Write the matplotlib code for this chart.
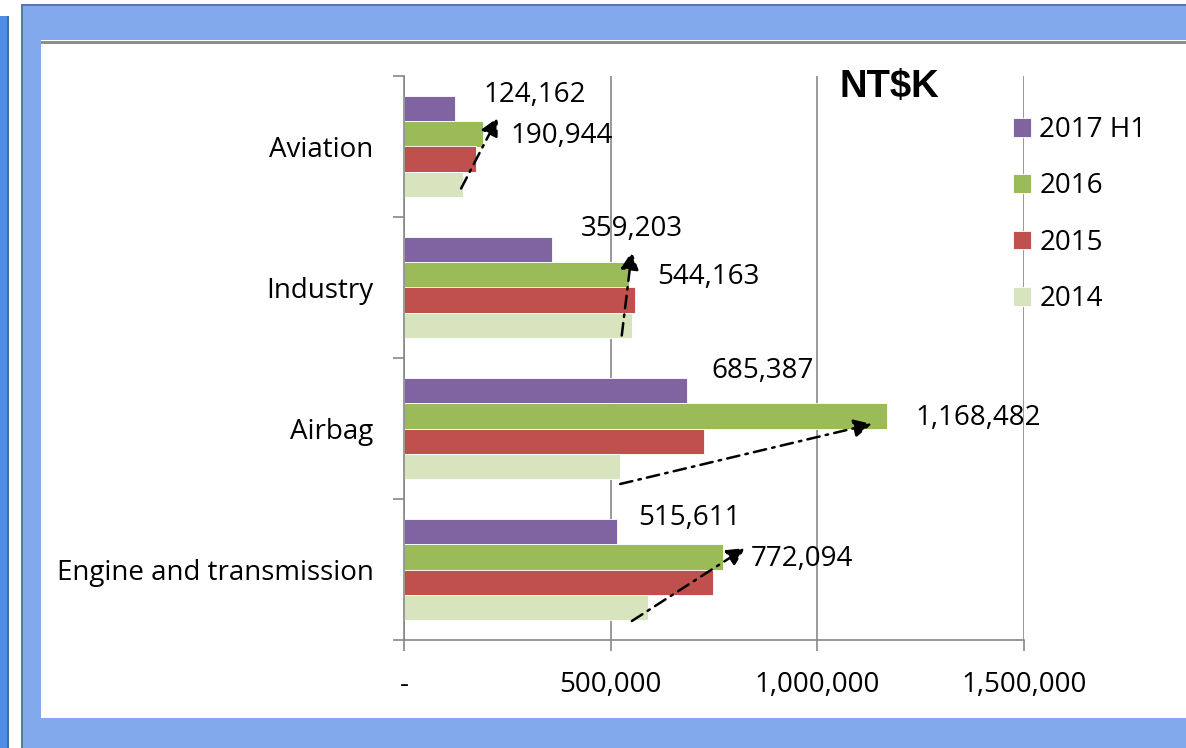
import matplotlib.pyplot as plt
from matplotlib.patches import Rectangle
import numpy as np

# data (NT$K)
categories = ['Engine and transmission', 'Airbag', 'Industry', 'Aviation']
series = ['2017 H1', '2016', '2015', '2014']
v2017 = [515611, 685387, 359203, 124162]
v2016 = [772094, 1168482, 544163, 190944]
v2015 = [747000, 726000, 558000, 174000]
v2014 = [590000, 523000, 551000, 143000]
colors = ['#8064A2', '#9BBB59', '#C0504D', '#D7E4BD']
xticks = [0, 500000, 1000000, 1500000]
xticklabels = ['-', '500,000', '1,000,000', '1,500,000']

W, H = 1186, 748
fig = plt.figure(figsize=(W / 100, H / 100), dpi=100)
fig.patch.set_facecolor('white')

def frect(x, y, w, h, c):
    # rectangle in pixel coords (y from top)
    fig.patches.append(Rectangle((x / W, 1 - (y + h) / H), w / W, h / H,
                                 transform=fig.transFigure, facecolor=c,
                                 edgecolor='none', zorder=-5))

# blue frame around the chart
frect(0, 16, 8, H - 16, '#4E8CE6')
frect(7, 16, 2, H - 16, '#3D6FA8')
frect(21, 4, W - 21, H - 4, '#82A9EC')
frect(21, 4, W - 21, 2, '#4F7BA6')
frect(21, 4, 2, H - 4, '#4F7BA6')
frect(41, 40, W - 41, 678, 'white')
frect(41, 41, W - 41, 3, '#8E8E8E')

font = 'Open Sans'
fs = 20

ax = fig.add_axes([404 / W, 1 - 640 / H, 620 / W, 564 / H])
ax.set_facecolor('none')

h = 0.18
centers = np.arange(len(categories)) + 0.5
vals = [v2017, v2016, v2015, v2014]
offs = [1.5, 0.5, -0.5, -1.5]
for s, v, c, o in zip(series, vals, colors, offs):
    ax.barh(centers + o * h, v, height=h, color=c, edgecolor='white',
            linewidth=0.6, label=s, zorder=2)

ax.set_xlim(0, 1500000)
ax.set_ylim(0, 4)

gray = '#878787'
for sp in ['top', 'right']:
    ax.spines[sp].set_visible(False)
for sp in ['left', 'bottom']:
    ax.spines[sp].set_color(gray)
    ax.spines[sp].set_linewidth(1.2)

ax.set_xticks(xticks)
ax.set_xticklabels(xticklabels, fontsize=fs, family=font)
ax.tick_params(axis='x', length=8, color=gray, width=1.2, pad=14)
ax.xaxis.grid(True, color=gray, linewidth=1.2, zorder=0)
ax.set_axisbelow(True)

ax.set_yticks(np.arange(len(categories) + 1))
ax.set_yticklabels([])
ax.set_yticks(centers, minor=True)
ax.set_yticklabels(categories, minor=True, fontsize=fs, family=font)
ax.tick_params(axis='y', which='major', length=8, color=gray, width=1.2)
ax.tick_params(axis='y', which='minor', length=0, pad=22)

# value labels
px = 0.72  # pixel -> points
dx17 = [21, 24, 28, 28]
dy17 = [13.5, 19.5, 20, 13]
for i in range(len(categories)):
    ax.annotate(f'{v2017[i]:,}', xy=(v2017[i], centers[i] + 1.5 * h),
                xytext=(dx17[i] * px, dy17[i] * px), textcoords='offset points',
                ha='left', va='center', fontsize=fs, family=font)
    ax.annotate(f'{v2016[i]:,}', xy=(v2016[i], centers[i] + 0.5 * h),
                xytext=(28 * px, -2.5 * px), textcoords='offset points',
                ha='left', va='center', fontsize=fs, family=font)

# trend arrows 2014 -> 2016
xpx = 1500000 / 620
ypx = 4 / 564
sdx = [-16, 0, -10, -2]
sdy = [-51.5, -55.5, -48, -42]
edx = [22, -15, 3, 15]
edy = [21.5, 4.5, 36, 29]
for i in range(len(categories)):
    x0 = v2014[i] + sdx[i] * xpx
    y0 = centers[i] + sdy[i] * ypx
    x1 = v2016[i] + edx[i] * xpx
    y1 = centers[i] + edy[i] * ypx
    ax.annotate('', xy=(x1, y1), xytext=(x0, y0),
                arrowprops=dict(arrowstyle='-|>', color='black', lw=1.8,
                                linestyle=(0, (5, 2.5, 1, 2.5)),
                                mutation_scale=27, shrinkA=0, shrinkB=0),
                zorder=5)

ax.text(839, H - 87, 'NT$K', transform=None, fontsize=27.5,
        family='Liberation Sans', weight='bold', va='center', ha='left')

leg = ax.legend(loc='upper left', bbox_to_anchor=(1013 / W, 1 - 116 / H),
                bbox_transform=fig.transFigure, frameon=False, borderpad=0,
                borderaxespad=0, handlelength=0.65, handleheight=0.65,
                handletextpad=0.3, labelspacing=1.02,
                prop={'family': font, 'size': fs})

fig.savefig('out.png', dpi=100)
